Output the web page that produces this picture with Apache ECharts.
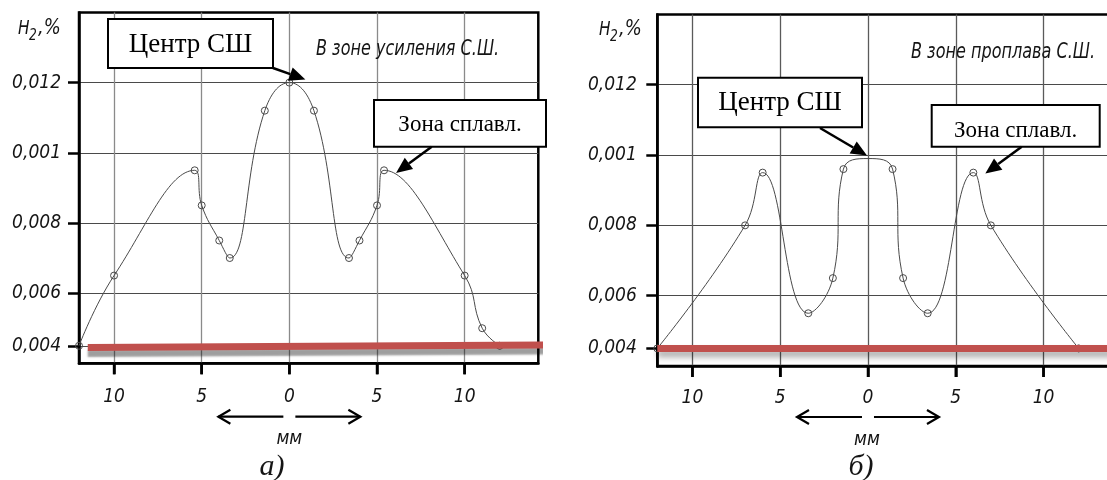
<!DOCTYPE html>
<html><head><meta charset="utf-8">
<script src="https://cdn.jsdelivr.net/npm/echarts@6/dist/echarts.min.js"></script>
<style>html,body{margin:0;padding:0;background:#fff}#c{width:1107px;height:480px}</style>
</head><body><div id="c"></div>
<script>
// ---- axis ticks ----
const xTicks = [-10, -5, 0, 5, 10];
const xTickLabels = ['10', '5', '0', '5', '10'];
const yTicks = [0.004, 0.006, 0.008, 0.010, 0.012];
const yTickLabels = ['0,004', '0,006', '0,008', '0,001', '0,012'];

// ---- panel а): В зоне усиления С.Ш. ----
const xA = [-12, -10, -5.4, -5, -4, -3.4, -1.4, 0, 1.4, 3.4, 4, 5, 5.4, 10, 11, 12];
const yA = [0.004, 0.0065, 0.0095, 0.0085, 0.0075, 0.0070, 0.0112, 0.012, 0.0112, 0.0070, 0.0075, 0.0085, 0.0095, 0.0065, 0.0050, 0.004];

// ---- panel б): В зоне проплава С.Ш. ----
const xB = [-12, -7, -6, -3.4, -2, -1.4, 0, 1.4, 2, 3.4, 6, 7, 12];
const yB = [0.004, 0.008, 0.0095, 0.0055, 0.0065, 0.0096, 0.0099, 0.0096, 0.0065, 0.0055, 0.0095, 0.008, 0.004];
const markB = [1, 1, 1, 1, 1, 1, 0, 1, 1, 1, 1, 1, 1];

// ---- base (initial) level lines ----
const baseXA = [-11.5, 14.55];
const baseYA = [0.00395, 0.00402];
const baseXB = [-12, 16];
const baseYB = [0.004, 0.004];

const GOST = "'DejaVu Sans Condensed','Liberation Sans Narrow','DejaVu Sans',sans-serif";
const SERIF = "'Liberation Serif','Times New Roman',serif";

const chart = echarts.init(document.getElementById('c'), null, { renderer: 'canvas' });

function near(arr, v) { return arr.findIndex(t => Math.abs(t - v) < 1e-9); }
function yLabel(v) { const i = near(yTicks, v); return i >= 0 ? yTickLabels[i] : ''; }
function xLabel(v) { const i = near(xTicks, v); return i >= 0 ? xTickLabels[i] : ''; }

function makeX(gi, color, margin) {
  return {
    type: 'value', gridIndex: gi, min: -12, max: 14.2,
    axisLine: { show: true, onZero: false, lineStyle: { color: '#000', width: 2.5 } },
    axisTick: { show: true, length: 11, customValues: xTicks, lineStyle: { color: '#000', width: 2.5 } },
    axisLabel: { customValues: xTicks, formatter: xLabel, margin: margin, color: '#151515', fontStyle: 'italic', fontFamily: GOST, fontSize: 19 },
    splitLine: { show: true, lineStyle: { color: color, width: 1.3 } }
  };
}
function makeY(gi, color, margin) {
  return {
    type: 'value', gridIndex: gi, min: 0.0035, max: 0.014,
    breaks: [{ start: 0.0041, end: 0.0046, gap: 0 }],
    breakArea: { show: false },
    axisLine: { show: true, onZero: false, lineStyle: { color: '#000', width: 2.5 } },
    axisTick: { show: true, inside: false, length: 11, customValues: yTicks, lineStyle: { color: '#000', width: 2.5 } },
    axisLabel: { customValues: yTicks, formatter: yLabel, margin: margin, color: '#151515', fontStyle: 'italic', fontFamily: GOST, fontSize: 19 },
    splitLine: { show: true, lineStyle: { color: color, width: 1.1 } }
  };
}

const curveStyle = { color: '#4a4a4a', width: 1 };
const circleStyle = { color: 'rgba(255,255,255,0)', borderColor: '#4a4a4a', borderWidth: 1 };

chart.setOption({
  animation: false,
  backgroundColor: '#fff',
  grid: [
    { left: 79, top: 12.4, width: 459.3, height: 350.9, show: true, borderColor: '#000', borderWidth: 2.5, outerBoundsMode: 'none' },
    { left: 657.3, top: 14.4, width: 460, height: 351.6, show: true, borderColor: '#000', borderWidth: 2.5, outerBoundsMode: 'none' }
  ],
  xAxis: [makeX(0, '#8a8a8a', 24), makeX(1, '#5a5a5a', 23)],
  yAxis: [makeY(0, '#4a4a4a', 18), makeY(1, '#4a4a4a', 20.5)],
  series: [
    {
      type: 'line', xAxisIndex: 0, yAxisIndex: 0, z: 3,
      data: xA.map((x, i) => [x, yA[i]]),
      smooth: 0.45, symbol: 'circle', symbolSize: 7, showAllSymbol: true,
      lineStyle: curveStyle, itemStyle: circleStyle
    },
    {
      type: 'line', xAxisIndex: 1, yAxisIndex: 1, z: 3,
      data: xB.map((x, i) => ({ value: [x, yB[i]], symbol: markB[i] ? 'circle' : 'none' })),
      smooth: 0.45, symbol: 'circle', symbolSize: 7, showAllSymbol: true,
      lineStyle: curveStyle, itemStyle: circleStyle
    },
    {
      type: 'line', xAxisIndex: 0, yAxisIndex: 0, z: 5, clip: false, symbol: 'none',
      data: baseXA.map((x, i) => [x, baseYA[i]]),
      lineStyle: { color: '#C0504D', width: 7, shadowColor: 'rgba(0,0,0,0.38)', shadowBlur: 2, shadowOffsetY: 6 }
    },
    {
      type: 'line', xAxisIndex: 1, yAxisIndex: 1, z: 5, clip: false, symbol: 'none',
      data: baseXB.map((x, i) => [x, baseYB[i]]),
      lineStyle: { color: '#C0504D', width: 7, shadowColor: 'rgba(0,0,0,0.35)', shadowBlur: 6, shadowOffsetY: 5 }
    }
  ]
});

// ---- annotations ----
function px(gi, pt) { return chart.convertToPixel({ gridIndex: gi }, pt); }
function peakOf(xs, ys, lo, hi) {
  let bi = -1;
  for (let i = 0; i < xs.length; i++) if (xs[i] >= lo && xs[i] <= hi && (bi < 0 || ys[i] > ys[bi])) bi = i;
  return [xs[bi], ys[bi]];
}
function arrow(x1, y1, x2, y2) {
  const dx = x2 - x1, dy = y2 - y1, L = Math.hypot(dx, dy), ux = dx / L, uy = dy / L;
  const hl = 16, hw = 7;
  const bx = x2 - ux * hl, by = y2 - uy * hl;
  return [
    { type: 'line', z: 20, shape: { x1, y1, x2: bx, y2: by }, style: { stroke: '#000', lineWidth: 2.5 } },
    { type: 'polygon', z: 20, shape: { points: [[x2, y2], [bx - uy * hw, by + ux * hw], [bx + uy * hw, by - ux * hw]] }, style: { fill: '#000' } }
  ];
}
function box(x, y, w, h, text, size, ty) {
  return [
    { type: 'rect', z: 19, shape: { x, y, width: w, height: h }, style: { fill: '#fff', stroke: '#000', lineWidth: 2 } },
    { type: 'text', z: 21, style: { text, x: x + w / 2, y: ty, align: 'center', verticalAlign: 'middle', font: size + 'px ' + SERIF, fill: '#000' } }
  ];
}
function gtext(text, x, y, size, align, family, italic, sx) {
  return {
    type: 'text', z: 21, x, y, scaleX: sx || 1,
    style: { text, x: 0, y: 0, align: align || 'left', verticalAlign: 'middle', font: (italic === false ? '' : 'italic ') + size + 'px ' + (family || GOST), fill: '#151515' }
  };
}
function ylabelName(x, y) {
  return [
    gtext('H', x, y, 20, 'left', GOST, true, 0.85), gtext('2', x + 11, y + 7, 16, 'left', GOST, true, 0.85), gtext(',%', x + 20, y, 21, 'left', GOST, true, 0.95)
  ];
}
function mmArrows(cx, y) {
  const out = [];
  const seg = (a, b, dir) => {
    out.push({ type: 'line', z: 20, shape: { x1: a, y1: y, x2: b, y2: y }, style: { stroke: '#000', lineWidth: 2.2 } });
    const t = dir < 0 ? a : b;
    out.push({ type: 'polyline', z: 20, shape: { points: [[t - dir * 12, y - 7], [t, y], [t - dir * 12, y + 7]] }, style: { stroke: '#000', lineWidth: 2.2, fill: null } });
  };
  seg(cx - 71, cx - 6, -1);
  seg(cx + 6, cx + 71, 1);
  return out;
}
// x-axis tick marks, positioned through the axis scale
function xTickMarks(gi) {
  return xTicks.map(v => {
    const p0 = px(gi, [v, 0.0035]);
    return { type: 'line', z: 18, shape: { x1: p0[0], y1: p0[1], x2: p0[0], y2: p0[1] + 11 }, style: { stroke: '#000', lineWidth: 2.5 } };
  });
}

const zA = px(0, [0, 0.012]);
const zB = px(1, [0, 0.012]);
const topA = px(0, peakOf(xA, yA, -1, 1));
const fusA = px(0, peakOf(xA, yA, 5, 6));
const topB = px(1, peakOf(xB, yB, -1, 1));
const fusB = px(1, peakOf(xB, yB, 5, 7));

let g = [];
g = g.concat(xTickMarks(0), xTickMarks(1));
g = g.concat(box(108, 19, 165, 49, 'Центр СШ', 27, 45));
g = g.concat(arrow(273, 68, topA[0] + 16, topA[1] - 3));
g = g.concat(box(374, 100, 172, 46.7, 'Зона сплавл.', 23, 124.5));
g = g.concat(arrow(431.7, 146.7, fusA[0] + 12, fusA[1] + 2.6));
g = g.concat(box(698, 77.7, 164, 49.6, 'Центр СШ', 27, 103));
g = g.concat(arrow(820, 128, topB[0] - 1, topB[1] - 3));
g = g.concat(box(931.7, 105, 168, 41.7, 'Зона сплавл.', 23, 131));
g = g.concat(arrow(1021.7, 146.7, fusB[0] + 12, fusB[1] + 1));
g.push(gtext('В зоне усиления С.Ш.', 316, 50, 21, 'left', GOST, true, 0.85));
g.push(gtext('В зоне проплава С.Ш.', 911, 53, 21, 'left', GOST, true, 0.85));
g = g.concat(ylabelName(18, 29));
g = g.concat(ylabelName(599, 30));
g = g.concat(mmArrows(zA[0], 416.7));
g = g.concat(mmArrows(zB[0], 417));
g.push(gtext('мм', zA[0], 439, 19, 'center'));
g.push(gtext('мм', zB[0] - 1, 440, 19, 'center'));
g.push(gtext('а)', 272, 467, 30, 'center', SERIF));
g.push(gtext('б)', 861, 467, 30, 'center', SERIF));

chart.setOption({ graphic: g });
</script>
</body></html>
